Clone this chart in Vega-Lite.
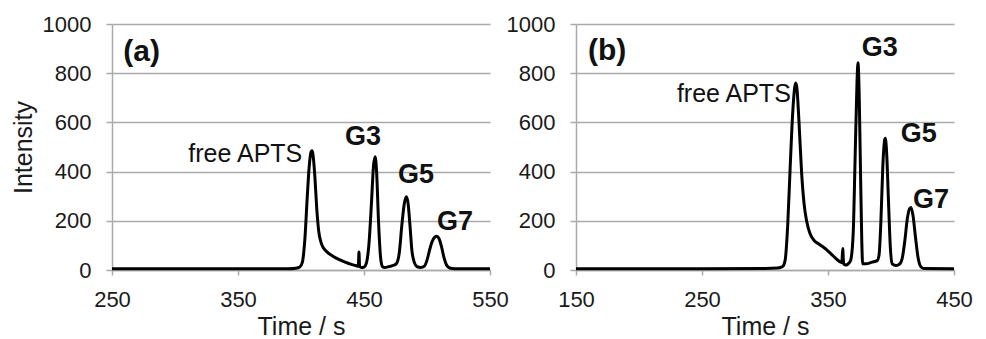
{
  "$schema": "https://vega.github.io/schema/vega-lite/v6.json",
  "padding": {"left": 11, "top": 13, "right": 0, "bottom": 0},
  "background": "white",
  "spacing": 86,
  "bounds": "flush",
  "config": {
    "font": "Liberation Sans",
    "view": {"stroke": null},
    "axis": {
      "gridColor": "#aaaaaa",
      "gridWidth": 1.5,
      "domainColor": "#aaaaaa",
      "domainWidth": 1.5,
      "tickColor": "#aaaaaa",
      "tickWidth": 1.5,
      "labelFont": "Liberation Sans",
      "titleFont": "Liberation Sans",
      "labelFontSize": 22,
      "titleFontSize": 25,
      "labelColor": "#1a1a1a",
      "titleColor": "#1a1a1a",
      "titleFontWeight": "normal",
      "labelFlush": false,
      "format": "d"
    }
  },
  "datasets": {
    "a": [
      {"t": 250, "I": 5}, {"t": 300, "I": 5}, {"t": 350, "I": 5}, {"t": 390, "I": 5}, {"t": 396, "I": 7},
      {"t": 399, "I": 12}, {"t": 401, "I": 30}, {"t": 403, "I": 120}, {"t": 405, "I": 300}, {"t": 406.5, "I": 420},
      {"t": 408, "I": 480}, {"t": 408.8, "I": 485}, {"t": 409.5, "I": 470}, {"t": 411, "I": 380}, {"t": 412.5, "I": 250},
      {"t": 414, "I": 160}, {"t": 416, "I": 110}, {"t": 418, "I": 88}, {"t": 421, "I": 72}, {"t": 425, "I": 57},
      {"t": 430, "I": 43}, {"t": 435, "I": 32}, {"t": 440, "I": 23}, {"t": 444, "I": 17}, {"t": 445.5, "I": 15},
      {"t": 446, "I": 73}, {"t": 446.5, "I": 15}, {"t": 448, "I": 10}, {"t": 450, "I": 12}, {"t": 452, "I": 30},
      {"t": 454, "I": 110}, {"t": 456, "I": 280}, {"t": 457.5, "I": 420}, {"t": 458.8, "I": 460}, {"t": 460, "I": 400},
      {"t": 461.5, "I": 200}, {"t": 463, "I": 60}, {"t": 464.5, "I": 15}, {"t": 466, "I": 10}, {"t": 470, "I": 14},
      {"t": 474, "I": 20}, {"t": 476, "I": 28}, {"t": 478, "I": 70}, {"t": 480, "I": 180}, {"t": 482, "I": 270},
      {"t": 483.6, "I": 298}, {"t": 485, "I": 270}, {"t": 486.5, "I": 180}, {"t": 488, "I": 80}, {"t": 490, "I": 30},
      {"t": 492, "I": 14}, {"t": 495, "I": 10}, {"t": 498, "I": 16}, {"t": 500, "I": 40}, {"t": 502, "I": 80},
      {"t": 504, "I": 115}, {"t": 506, "I": 133}, {"t": 507.7, "I": 137}, {"t": 509.5, "I": 128}, {"t": 511.5, "I": 95},
      {"t": 513.5, "I": 50}, {"t": 515.5, "I": 20}, {"t": 518, "I": 8}, {"t": 522, "I": 5}, {"t": 550, "I": 5}
    ],
    "b": [
      {"t": 150, "I": 5}, {"t": 250, "I": 5}, {"t": 300, "I": 6}, {"t": 310, "I": 8}, {"t": 314, "I": 14},
      {"t": 316, "I": 40}, {"t": 318, "I": 180}, {"t": 320, "I": 420}, {"t": 322, "I": 640}, {"t": 323.5, "I": 740},
      {"t": 324.4, "I": 760}, {"t": 325.3, "I": 740}, {"t": 327, "I": 600}, {"t": 329, "I": 400}, {"t": 331, "I": 270},
      {"t": 333, "I": 200}, {"t": 335.7, "I": 148}, {"t": 339, "I": 120}, {"t": 343, "I": 105}, {"t": 349, "I": 82},
      {"t": 354, "I": 58}, {"t": 359, "I": 35}, {"t": 361, "I": 30}, {"t": 361.7, "I": 87}, {"t": 362.4, "I": 25},
      {"t": 364.3, "I": 20}, {"t": 366, "I": 25}, {"t": 368, "I": 40}, {"t": 370, "I": 150}, {"t": 371.5, "I": 450},
      {"t": 373, "I": 760}, {"t": 373.8, "I": 842}, {"t": 374.8, "I": 700}, {"t": 375.8, "I": 400}, {"t": 376.8, "I": 120},
      {"t": 377.5, "I": 25}, {"t": 380, "I": 25}, {"t": 385, "I": 32}, {"t": 389, "I": 38}, {"t": 390.5, "I": 60},
      {"t": 392, "I": 200}, {"t": 393.5, "I": 420}, {"t": 395, "I": 530}, {"t": 395.5, "I": 536}, {"t": 396.5, "I": 480},
      {"t": 398, "I": 280}, {"t": 399.5, "I": 90}, {"t": 401, "I": 25}, {"t": 404, "I": 18}, {"t": 407, "I": 25},
      {"t": 409, "I": 50}, {"t": 411, "I": 120}, {"t": 413, "I": 210}, {"t": 414.8, "I": 250}, {"t": 415.9, "I": 254},
      {"t": 417.5, "I": 220}, {"t": 419.5, "I": 130}, {"t": 421.5, "I": 50}, {"t": 423.5, "I": 15}, {"t": 426, "I": 6},
      {"t": 450, "I": 5}
    ],
    "freeA": [{"t": 401, "I": 472, "txt": "free APTS"}],
    "boldA": [
      {"t": 259, "I": 886, "txt": "(a)", "s": 30},
      {"t": 435, "I": 541, "txt": "G3", "s": 27},
      {"t": 477, "I": 386, "txt": "G5", "s": 27},
      {"t": 508, "I": 195, "txt": "G7", "s": 27}
    ],
    "freeB": [{"t": 320.5, "I": 714, "txt": "free APTS"}],
    "boldB": [
      {"t": 159.5, "I": 890, "txt": "(b)", "s": 30},
      {"t": 376.7, "I": 902, "txt": "G3", "s": 27},
      {"t": 407.7, "I": 551, "txt": "G5", "s": 27},
      {"t": 417.5, "I": 286, "txt": "G7", "s": 27}
    ]
  },
  "hconcat": [
    {
      "width": 378,
      "height": 246,
      "layer": [
        {
          "data": {"name": "a"},
          "mark": {"type": "line", "color": "black", "strokeWidth": 3, "interpolate": "monotone"},
          "encoding": {
            "x": {"field": "t", "type": "quantitative", "scale": {"domain": [250, 550], "nice": false},
              "axis": {"title": "Time / s", "values": [250, 350, 450, 550], "grid": false, "tickSize": 5, "labelPadding": 14, "titlePadding": 4}},
            "y": {"field": "I", "type": "quantitative", "scale": {"domain": [0, 1000], "nice": false},
              "axis": {"title": "Intensity", "values": [0, 200, 400, 600, 800, 1000], "tickSize": 6, "labelPadding": 15, "titlePadding": 8, "minExtent": 68, "maxExtent": 68}}
          }
        },
        {
          "data": {"name": "freeA"},
          "mark": {"type": "text", "baseline": "middle", "align": "right", "fontSize": 25, "color": "#111111", "clip": false},
          "encoding": {
            "x": {"field": "t", "type": "quantitative"},
            "y": {"field": "I", "type": "quantitative"},
            "text": {"field": "txt"}
          }
        },
        {
          "data": {"name": "boldA"},
          "mark": {"type": "text", "baseline": "middle", "align": "left", "fontWeight": "bold", "color": "#111111", "clip": false},
          "encoding": {
            "x": {"field": "t", "type": "quantitative"},
            "y": {"field": "I", "type": "quantitative"},
            "text": {"field": "txt"},
            "size": {"field": "s", "type": "quantitative", "scale": null}
          }
        }
      ]
    },
    {
      "width": 378,
      "height": 246,
      "layer": [
        {
          "data": {"name": "b"},
          "mark": {"type": "line", "color": "black", "strokeWidth": 3, "interpolate": "monotone"},
          "encoding": {
            "x": {"field": "t", "type": "quantitative", "scale": {"domain": [150, 450], "nice": false},
              "axis": {"title": "Time / s", "values": [150, 250, 350, 450], "grid": false, "tickSize": 5, "labelPadding": 14, "titlePadding": 4}},
            "y": {"field": "I", "type": "quantitative", "scale": {"domain": [0, 1000], "nice": false},
              "axis": {"title": null, "values": [0, 200, 400, 600, 800, 1000], "tickSize": 6, "labelPadding": 15, "minExtent": 68, "maxExtent": 68}}
          }
        },
        {
          "data": {"name": "freeB"},
          "mark": {"type": "text", "baseline": "middle", "align": "right", "fontSize": 25, "color": "#111111", "clip": false},
          "encoding": {
            "x": {"field": "t", "type": "quantitative"},
            "y": {"field": "I", "type": "quantitative"},
            "text": {"field": "txt"}
          }
        },
        {
          "data": {"name": "boldB"},
          "mark": {"type": "text", "baseline": "middle", "align": "left", "fontWeight": "bold", "color": "#111111", "clip": false},
          "encoding": {
            "x": {"field": "t", "type": "quantitative"},
            "y": {"field": "I", "type": "quantitative"},
            "text": {"field": "txt"},
            "size": {"field": "s", "type": "quantitative", "scale": null}
          }
        }
      ]
    }
  ]
}
